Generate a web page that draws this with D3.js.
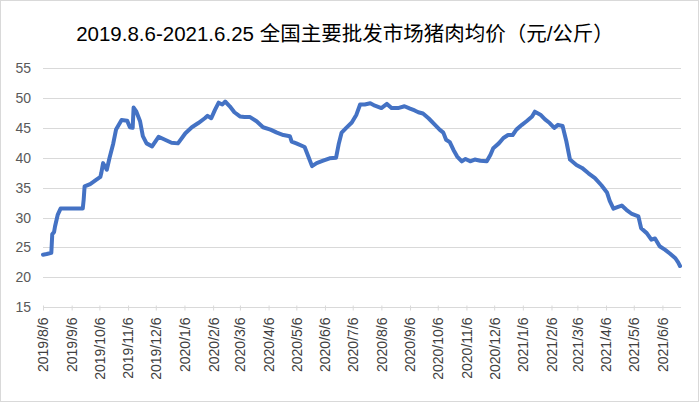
<!DOCTYPE html>
<html><head><meta charset="utf-8">
<script src="https://cdn.jsdelivr.net/npm/d3@7"></script>
<style>
html,body{margin:0;padding:0;background:#fff;}
svg{display:block;}
</style></head>
<body>
<svg id="chart" width="700" height="403"></svg>
<script>
const title = "2019.8.6-2021.6.25 全国主要批发市场猪肉均价（元/公斤）";
const dates = ["2019-08-06","2019-08-10","2019-08-15","2019-08-16","2019-08-18","2019-08-19","2019-08-22","2019-08-25","2019-09-04","2019-09-18","2019-09-19","2019-09-20","2019-09-26","2019-10-07","2019-10-08","2019-10-10","2019-10-14","2019-10-17","2019-10-21","2019-10-24","2019-10-30","2019-11-05","2019-11-08","2019-11-11","2019-11-12","2019-11-15","2019-11-19","2019-11-22","2019-11-26","2019-12-02","2019-12-09","2019-12-16","2019-12-23","2019-12-30","2020-01-07","2020-01-14","2020-01-21","2020-01-28","2020-01-31","2020-02-04","2020-02-08","2020-02-12","2020-02-16","2020-02-19","2020-02-24","2020-02-29","2020-03-06","2020-03-11","2020-03-17","2020-03-24","2020-03-31","2020-04-08","2020-04-15","2020-04-22","2020-04-29","2020-05-01","2020-05-06","2020-05-15","2020-05-19","2020-05-23","2020-05-28","2020-06-04","2020-06-11","2020-06-18","2020-06-21","2020-06-24","2020-06-29","2020-07-05","2020-07-10","2020-07-14","2020-07-19","2020-07-25","2020-07-30","2020-08-06","2020-08-12","2020-08-17","2020-08-24","2020-08-31","2020-09-06","2020-09-11","2020-09-15","2020-09-20","2020-09-26","2020-10-03","2020-10-08","2020-10-12","2020-10-15","2020-10-19","2020-10-23","2020-10-27","2020-11-01","2020-11-05","2020-11-10","2020-11-15","2020-11-21","2020-11-28","2020-12-02","2020-12-05","2020-12-11","2020-12-16","2020-12-21","2020-12-26","2020-12-30","2021-01-05","2021-01-10","2021-01-16","2021-01-19","2021-01-25","2021-01-30","2021-02-04","2021-02-09","2021-02-13","2021-02-18","2021-02-22","2021-02-26","2021-03-05","2021-03-11","2021-03-18","2021-03-25","2021-04-01","2021-04-07","2021-04-10","2021-04-14","2021-04-19","2021-04-23","2021-04-28","2021-05-04","2021-05-11","2021-05-14","2021-05-20","2021-05-25","2021-05-29","2021-06-03","2021-06-09","2021-06-14","2021-06-20","2021-06-23","2021-06-25"];
const prices = [23.8,23.9,24.1,27.2,27.6,28.5,30.5,31.5,31.5,31.5,33.0,35.2,35.6,36.8,37.4,39.1,38.0,40.0,42.4,44.7,46.3,46.2,45.1,45.0,48.4,47.7,46.1,43.6,42.4,41.9,43.5,43.0,42.5,42.4,44.1,45.1,45.8,46.6,47.0,46.6,48.0,49.2,48.9,49.4,48.6,47.6,46.9,46.8,46.8,46.1,45.1,44.7,44.2,43.8,43.6,42.7,42.4,41.8,40.2,38.6,39.1,39.5,39.9,40.0,42.4,44.2,45.0,45.9,47.2,48.9,48.9,49.1,48.7,48.3,49.0,48.3,48.3,48.6,48.2,47.9,47.6,47.4,46.6,45.5,44.7,44.2,43.0,42.6,41.3,40.2,39.4,39.8,39.4,39.7,39.5,39.4,40.5,41.6,42.4,43.3,43.8,43.8,44.7,45.5,46.1,46.9,47.7,47.2,46.4,45.8,45.0,45.5,45.3,42.8,39.7,38.8,38.3,37.4,36.6,35.4,34.2,32.8,31.5,31.8,32.0,31.3,30.6,30.2,28.2,27.4,26.3,26.5,25.2,24.6,24.0,23.2,22.5,21.9];
const yTicks = [15,20,25,30,35,40,45,50,55];
const xTickLabels = ["2019/8/6","2019/9/6","2019/10/6","2019/11/6","2019/12/6","2020/1/6","2020/2/6","2020/3/6","2020/4/6","2020/5/6","2020/6/6","2020/7/6","2020/8/6","2020/9/6","2020/10/6","2020/11/6","2020/12/6","2021/1/6","2021/2/6","2021/3/6","2021/4/6","2021/5/6","2021/6/6"];

const parse = d3.timeParse("%Y-%m-%d");
const parseTick = d3.timeParse("%Y/%m/%d");
const data = dates.map((d,i)=>({date: parse(d), value: prices[i]}));
const tickDates = xTickLabels.map(t=>parseTick(t));

const svg = d3.select("#chart");
const W = 700, H = 403;
const m = {left: 43, right: 20, top: 68, bottom: 96};

svg.append("rect").attr("x",0.5).attr("y",0.5).attr("width",W-2).attr("height",H-2)
  .attr("fill","#ffffff").attr("stroke","#d9d9d9");

const x = d3.scaleTime()
  .domain([parse("2019-08-06"), parse("2021-06-25")])
  .range([m.left, 680]);
const y = d3.scaleLinear().domain([15,55]).range([307.3, 68]);

// gridlines
svg.append("g").selectAll("line").data(yTicks.filter(t=>t>15)).join("line")
  .attr("x1", m.left).attr("x2", 681)
  .attr("y1", d=>Math.round(y(d))+0.5).attr("y2", d=>Math.round(y(d))+0.5)
  .attr("stroke","#d9d9d9").attr("stroke-width",1);

// y axis labels
const yAxis = d3.axisLeft(y).tickValues(yTicks).tickSize(0).tickPadding(0);
const gy = svg.append("g").attr("transform","translate(31,0)").call(yAxis);
gy.select(".domain").remove();
gy.selectAll("text").attr("font-family","'Liberation Sans', 'DejaVu Sans', sans-serif")
  .attr("font-size","14px").attr("fill","#595959");

// x axis
const xAxis = d3.axisBottom(x).tickValues(tickDates).tickSize(4).tickFormat((d,i)=>xTickLabels[i]);
const gx = svg.append("g").attr("transform",`translate(0,${Math.round(y(15))+0.5})`).call(xAxis);
gx.select(".domain").attr("stroke","#d9d9d9").attr("d", `M${m.left},0H681`);
gx.selectAll(".tick line").attr("stroke","#d9d9d9").attr("y1",-2).attr("y2",3);
gx.selectAll("text")
  .attr("font-family","'Liberation Sans', 'DejaVu Sans', sans-serif")
  .attr("font-size","14px").attr("fill","#404040")
  .attr("transform","rotate(-90)")
  .attr("text-anchor","end")
  .attr("dy","0.35em")
  .attr("y",0).attr("x",-10);

// line
const line = d3.line().x(d=>x(d.date)).y(d=>y(d.value));
svg.append("path").datum(data).attr("d", line)
  .attr("fill","none").attr("stroke","#4472C4").attr("stroke-width",4)
  .attr("stroke-linejoin","round").attr("stroke-linecap","round");

// title
svg.append("text").attr("x",345).attr("y",41).attr("text-anchor","middle")
  .attr("font-family","'Liberation Sans', 'Noto Sans CJK SC', sans-serif")
  .attr("font-size","20.5px").attr("fill","#000").text(title);
</script>
</body></html>
